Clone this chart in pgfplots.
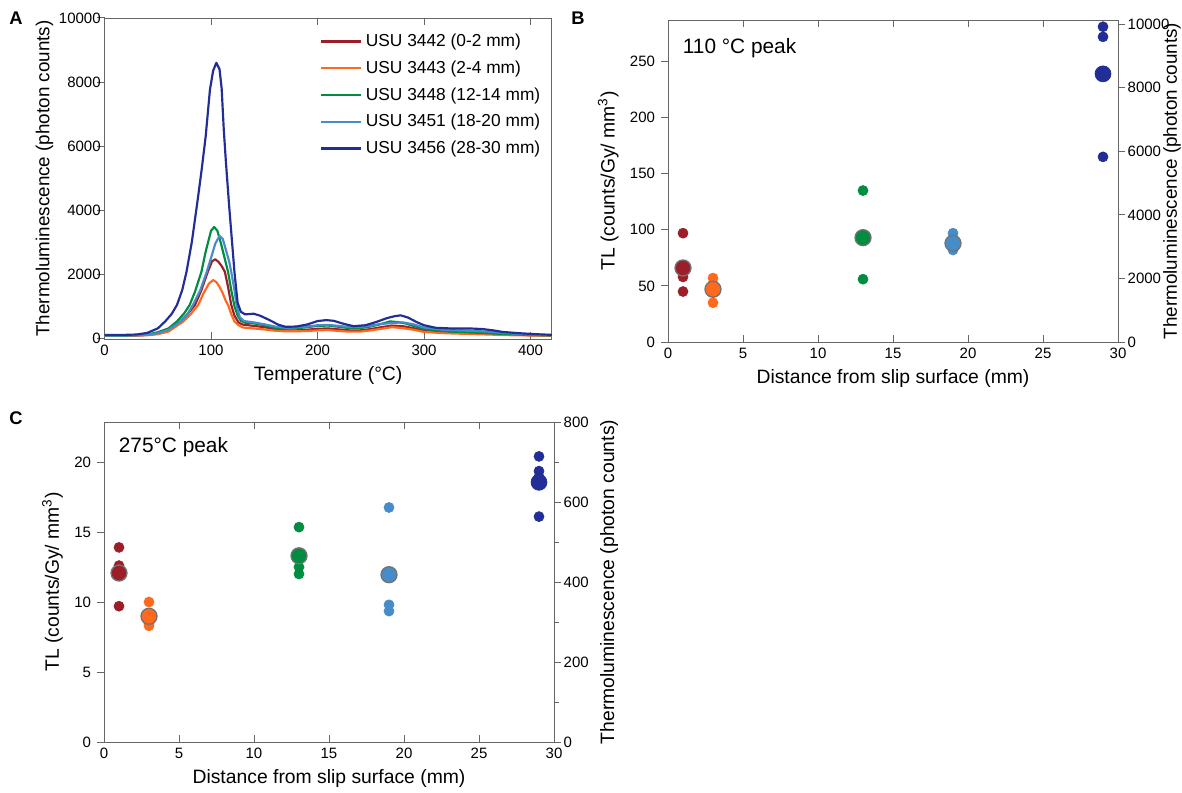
\documentclass[border=0pt]{standalone}
\usepackage{fontspec}
\setmainfont{Liberation Sans}
\usepackage{pgfplots}
\pgfplotsset{compat=1.18}

\definecolor{cRed}{RGB}{155,30,40}
\definecolor{cOra}{RGB}{255,105,30}
\definecolor{cGrn}{RGB}{0,140,65}
\definecolor{cLbl}{RGB}{70,140,200}
\definecolor{cBlu}{RGB}{35,45,150}

\pgfplotsset{
  base/.style={scale only axis,
    axis line style={black!60},
    tick style={black!60,line width=0.6pt},
    tick label style={font=\fontsize{9}{10}\selectfont},
    label style={font=\fontsize{11.6}{14}\selectfont},
    /pgf/number format/assume math mode=true,
    /pgf/number format/1000 sep={},
    scaled ticks=false,
    xtick align=inside, ytick align=outside},
  small/.style={only marks, mark=*, mark size=3pt, mark options={draw=none}},
  big/.style={only marks, mark=*, mark size=4.8pt, mark options={draw=black!55, line width=0.8pt}},
}

\begin{document}
\begin{tikzpicture}
\path[use as bounding box] (0pt,0pt) rectangle (709.2pt,-475.8pt);

% ---------- A ----------
\node[font=\bfseries\fontsize{11}{12}\selectfont] at (9.6pt,-10.8pt) {A};
\begin{axis}[base, at={(62.7pt,-203.4pt)}, anchor=south west,
  width=268.4pt, height=192.6pt,
  xmin=0, xmax=420, ymin=-30, ymax=10000,
  xtick={0,100,...,400}, ytick={0,2000,...,10000}, ytick pos=left,
  yticklabel style={xshift=5.5pt},
  xlabel={Temperature (°C)}, ylabel={Thermoluminescence (photon counts)},
  ylabel style={font=\fontsize{11.3}{13}\selectfont},
  ylabel shift=-3.5pt,
  legend style={draw=none, fill=none, at={(0.47,0.972)}, anchor=north west,
    font=\fontsize{10.4}{12}\selectfont, row sep=3pt},
  legend cell align=left,
  legend image code/.code={\draw[#1, line width=1.3pt] (0cm,0cm) -- (0.85cm,0cm);},
  every axis plot/.append style={line width=1.3pt, line join=round}]
\addplot[cRed] coordinates {(0,80)(20,80)(30,85)(40,100)(50,140)(60,230)(71,518)(78,750)(85,1035)(91,1500)(97,2070)(101,2400)(104,2460)(107,2380)(110,2250)(113,2070)(116,1600)(119,1035)(122,700)(126,480)(130,420)(140,380)(150,340)(160,280)(170,240)(180,240)(190,260)(200,290)(210,300)(220,270)(230,240)(240,240)(250,280)(260,340)(270,390)(280,370)(290,310)(300,230)(320,180)(340,160)(360,140)(380,110)(400,90)(420,80)};
\addlegendentry{USU 3442 (0-2 mm)}
\addplot[cOra] coordinates {(0,70)(20,70)(30,75)(40,85)(50,120)(60,200)(74,518)(81,750)(88,1035)(93,1400)(98,1700)(102,1810)(105,1750)(108,1600)(111,1400)(114,1150)(116,1035)(119,750)(122,518)(126,400)(130,330)(140,300)(150,270)(160,230)(170,210)(180,210)(190,220)(200,240)(210,250)(220,220)(230,200)(240,200)(250,240)(260,290)(270,340)(280,310)(290,260)(300,190)(320,150)(340,130)(360,110)(380,90)(400,80)(420,70)};
\addlegendentry{USU 3443 (2-4 mm)}
\addplot[cGrn] coordinates {(0,80)(20,80)(30,90)(40,110)(50,180)(60,300)(68,518)(75,780)(80,1035)(85,1450)(91,2070)(95,2700)(100,3350)(103,3470)(106,3350)(109,3000)(112,2600)(116,2070)(119,1500)(122,1000)(125,700)(128,540)(132,480)(140,460)(150,400)(160,320)(170,290)(180,300)(190,340)(200,380)(210,390)(220,350)(230,310)(240,310)(250,360)(260,440)(268,520)(275,500)(282,460)(290,380)(300,280)(320,210)(340,180)(360,150)(380,120)(400,95)(420,80)};
\addlegendentry{USU 3448 (12-14 mm)}
\addplot[cLbl] coordinates {(0,80)(20,80)(30,85)(40,100)(50,150)(60,260)(70,480)(77,700)(83,1035)(90,1500)(96,2070)(100,2500)(104,2950)(108,3190)(111,3100)(114,2750)(117,2400)(119,2070)(122,1500)(124,1035)(127,650)(131,530)(140,490)(150,430)(160,360)(170,320)(180,330)(190,360)(200,400)(210,410)(220,380)(230,340)(240,340)(250,390)(260,440)(270,470)(280,490)(290,430)(300,330)(320,250)(340,230)(360,200)(380,150)(400,110)(420,90)};
\addlegendentry{USU 3451 (18-20 mm)}
\addplot[cBlu] coordinates {(0,100)(20,100)(30,110)(40,160)(50,300)(57,520)(63,750)(68,1030)(73,1500)(77,2070)(82,3000)(87,4200)(91,5200)(95,6300)(99,7760)(102,8350)(105,8600)(108,8400)(110,7800)(112,6500)(114,5500)(117,4140)(120,2900)(122,2070)(125,1100)(128,820)(132,740)(140,760)(146,700)(155,560)(163,420)(170,350)(180,360)(190,420)(200,530)(208,560)(215,540)(225,440)(234,370)(245,400)(255,500)(265,620)(272,680)(278,710)(285,640)(293,500)(300,400)(311,320)(325,300)(343,300)(355,280)(365,240)(374,190)(390,150)(405,120)(420,100)};
\addlegendentry{USU 3456 (28-30 mm)}
\end{axis}

% ---------- B ----------
\node[font=\bfseries\fontsize{11}{12}\selectfont] at (346.8pt,-10.8pt) {B};
\begin{axis}[base, at={(400.8pt,-205.2pt)}, anchor=south west,
  width=270pt, height=193.2pt,
  xmin=0, xmax=30, ymin=0, ymax=287,
  xtick={0,5,...,30}, ytick={0,50,...,250}, ytick pos=left,
  xlabel={Distance from slip surface (mm)},
  ylabel={TL (counts/Gy/ mm\textsuperscript{3})}]
\node[anchor=west, font=\fontsize{12.5}{14}\selectfont] at (rel axis cs:0.02,0.913) {110 °C peak};
\addplot[small, cRed] coordinates {(1,97)(1,58)(1,45)(1,62)};
\addplot[big, cRed] coordinates {(1,66)};
\addplot[small, cOra] coordinates {(3,57)(3,52)(3,35)};
\addplot[big, cOra] coordinates {(3,47)};
\addplot[small, cGrn] coordinates {(13,135)(13,56)(13,91)};
\addplot[big, cGrn] coordinates {(13,93)};
\addplot[small, cLbl] coordinates {(19,97)(19,93)(19,84)(19,82)};
\addplot[big, cLbl] coordinates {(19,88)};
\addplot[small, cBlu] coordinates {(29,281)(29,272)(29,165)};
\addplot[big, cBlu, mark options={draw=cBlu}] coordinates {(29,239)};
\end{axis}
\begin{axis}[base, at={(400.8pt,-205.2pt)}, anchor=south west,
  width=270pt, height=193.2pt,
  xmin=0, xmax=30, ymin=0, ymax=10130,
  axis y line*=right, axis x line=none,
  ytick={0,2000,...,10000},
  yticklabel style={xshift=-2pt},
  ylabel={Thermoluminescence (photon counts)},
  ylabel style={at={(rel axis cs:1.12,0.5)}, anchor=center, font=\fontsize{11.3}{13}\selectfont}]
\end{axis}

% ---------- C ----------
\node[font=\bfseries\fontsize{11}{12}\selectfont] at (9.6pt,-250.8pt) {C};
\begin{axis}[base, at={(62.4pt,-445.2pt)}, anchor=south west,
  width=270pt, height=192pt,
  xmin=0, xmax=30, ymin=0, ymax=22.857,
  xtick={0,5,...,30}, ytick={0,5,...,20}, ytick pos=left,
  xlabel={Distance from slip surface (mm)},
  ylabel={TL (counts/Gy/ mm\textsuperscript{3})}]
\node[anchor=west, font=\fontsize{12.5}{14}\selectfont] at (rel axis cs:0.02,0.922) {275°C peak};
\addplot[small, cRed] coordinates {(1,13.9)(1,12.6)(1,12.4)(1,9.7)};
\addplot[big, cRed] coordinates {(1,12.07)};
\addplot[small, cOra] coordinates {(3,10.0)(3,8.45)(3,8.3)};
\addplot[big, cOra] coordinates {(3,8.98)};
\addplot[small, cGrn] coordinates {(13,15.35)(13,12.5)(13,12.0)(13,13.5)};
\addplot[big, cGrn] coordinates {(13,13.3)};
\addplot[small, cLbl] coordinates {(19,16.75)(19,9.8)(19,9.35)};
\addplot[big, cLbl] coordinates {(19,11.95)};
\addplot[small, cBlu] coordinates {(29,20.4)(29,19.35)(29,18.95)(29,16.1)};
\addplot[big, cBlu, mark options={draw=cBlu}] coordinates {(29,18.55)};
\end{axis}
\begin{axis}[base, at={(62.4pt,-445.2pt)}, anchor=south west,
  width=270pt, height=192pt,
  xmin=0, xmax=30, ymin=0, ymax=800,
  axis y line*=right, axis x line=none,
  ytick={0,200,...,800}, minor ytick={100,300,500,700},
  yticklabel style={xshift=-2pt},
  ylabel={Thermoluminescence (photon counts)}]
\end{axis}
\end{tikzpicture}
\end{document}
